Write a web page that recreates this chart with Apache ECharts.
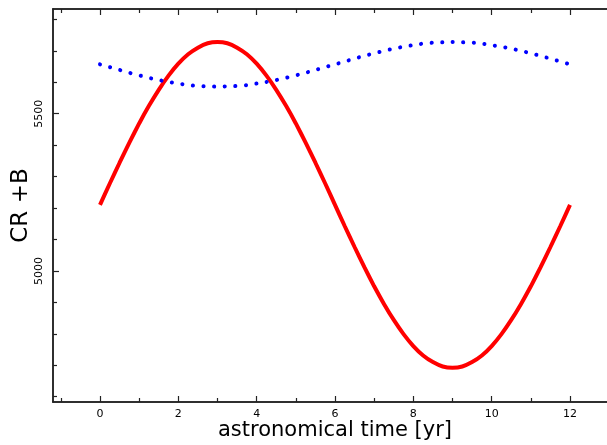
<!DOCTYPE html>
<html>
<head>
<meta charset="utf-8">
<script src="https://cdn.jsdelivr.net/npm/echarts@6/dist/echarts.min.js"></script>
<style>
  html, body { margin: 0; padding: 0; background: #fff; }
  #chart { width: 607px; height: 445px; }
</style>
</head>
<body>
<div id="chart"></div>
<script>
// Sample times (years), every quarter year
const years = [0, 0.25, 0.5, 0.75, 1, 1.25, 1.5, 1.75, 2, 2.25, 2.5, 2.75, 3,
               3.25, 3.5, 3.75, 4, 4.25, 4.5, 4.75, 5, 5.25, 5.5, 5.75, 6,
               6.25, 6.5, 6.75, 7, 7.25, 7.5, 7.75, 8, 8.25, 8.5, 8.75, 9,
               9.25, 9.5, 9.75, 10, 10.25, 10.5, 10.75, 11, 11.25, 11.5, 11.75, 12];

// CR curve (solid red)
const crCurve = [5210, 5278, 5344, 5408, 5469, 5525, 5576, 5621, 5659, 5689, 5710, 5724, 5728,
                 5724, 5710, 5689, 5659, 5621, 5576, 5525, 5469, 5408, 5344, 5278, 5210,
                 5142, 5076, 5012, 4951, 4895, 4844, 4799, 4761, 4731, 4710, 4696, 4692,
                 4696, 4710, 4731, 4761, 4799, 4844, 4895, 4951, 5012, 5076, 5142, 5210];

// B curve (dotted blue)
const bCurve = [5657, 5648, 5639, 5630, 5622, 5614, 5607, 5601, 5596, 5591, 5588, 5587, 5586,
                5587, 5588, 5591, 5596, 5601, 5607, 5614, 5622, 5630, 5639, 5648, 5657,
                5666, 5675, 5684, 5692, 5700, 5707, 5713, 5718, 5723, 5726, 5727, 5728,
                5727, 5726, 5723, 5718, 5713, 5707, 5700, 5692, 5684, 5675, 5666, 5657];

// Axis tick positions
const xMajor = [0, 2, 4, 6, 8, 10, 12];
const xMinor = [-1, 1, 3, 5, 7, 9, 11, 13];
const yMajor = [5000, 5500];
const yMinor = [4600, 4700, 4800, 4900, 5100, 5200, 5300, 5400, 5600, 5700, 5800];

const X_MIN = -1.2, X_MAX = 13.2;
const Y_MIN = 4583, Y_MAX = 5833;

const frame = { show: true, onZero: false, lineStyle: { color: '#222', width: 1.5 } };
const labelFont = { fontFamily: 'DejaVu Sans', fontSize: 11, color: '#000' };
const plain = v => String(v);

function xAxisDef(pos, ticks, len, withLabels, extra) {
  return Object.assign({
    type: 'value', position: pos, min: X_MIN, max: X_MAX,
    axisLine: frame,
    splitLine: { show: false },
    axisTick: { show: true, inside: true, length: len, customValues: ticks,
                lineStyle: { color: '#222', width: 1.2 } },
    axisLabel: withLabels
      ? Object.assign({ show: true, customValues: ticks, margin: 7, formatter: plain }, labelFont)
      : { show: false }
  }, extra || {});
}

function yAxisDef(ticks, len, withLabels, extra) {
  return Object.assign({
    type: 'value', position: 'left', min: Y_MIN, max: Y_MAX,
    axisLine: frame,
    splitLine: { show: false },
    axisTick: { show: true, inside: true, length: len, customValues: ticks,
                lineStyle: { color: '#222', width: 1.2 } },
    axisLabel: withLabels
      ? Object.assign({ show: true, customValues: ticks, rotate: 90, margin: 8, formatter: plain }, labelFont)
      : { show: false }
  }, extra || {});
}

const chart = echarts.init(document.getElementById('chart'), null, { renderer: 'canvas' });

chart.setOption({
  animation: false,
  backgroundColor: '#fff',
  grid: { left: 53, top: 9, right: -10, bottom: 43, containLabel: false, outerBoundsMode: 'none' },
  xAxis: [
    xAxisDef('bottom', xMajor, 6, true, {
      name: 'astronomical time [yr]', nameLocation: 'middle', nameGap: 29,
      nameMoveOverlap: false,
      nameTextStyle: { fontFamily: 'DejaVu Sans', fontSize: 21, color: '#000',
                       verticalAlign: 'middle', padding: 0 }
    }),
    xAxisDef('bottom', xMinor, 4, false),
    xAxisDef('top', xMajor, 6, false),
    xAxisDef('top', xMinor, 4, false)
  ],
  yAxis: [
    yAxisDef(yMajor, 6, true, {
      name: 'CR +B', nameLocation: 'middle', nameRotate: 90, nameGap: 32,
      nameMoveOverlap: false,
      nameTextStyle: { fontFamily: 'DejaVu Sans', fontSize: 23, color: '#000',
                       verticalAlign: 'middle', padding: 0 }
    }),
    yAxisDef(yMinor, 4, false)
  ],
  series: [
    {
      name: 'CR',
      type: 'line',
      xAxisIndex: 0, yAxisIndex: 0,
      data: years.map((t, i) => [t, crCurve[i]]),
      smooth: 0.15,
      showSymbol: false,
      lineStyle: { color: '#ff0000', width: 4 }
    },
    {
      name: 'B',
      type: 'line',
      xAxisIndex: 0, yAxisIndex: 0,
      data: years.map((t, i) => [t, bCurve[i]]),
      smooth: 0.15,
      showSymbol: false,
      lineStyle: { color: '#0000ff', width: 4, type: [0.1, 10.5], cap: 'round' }
    }
  ]
});
</script>
</body>
</html>
